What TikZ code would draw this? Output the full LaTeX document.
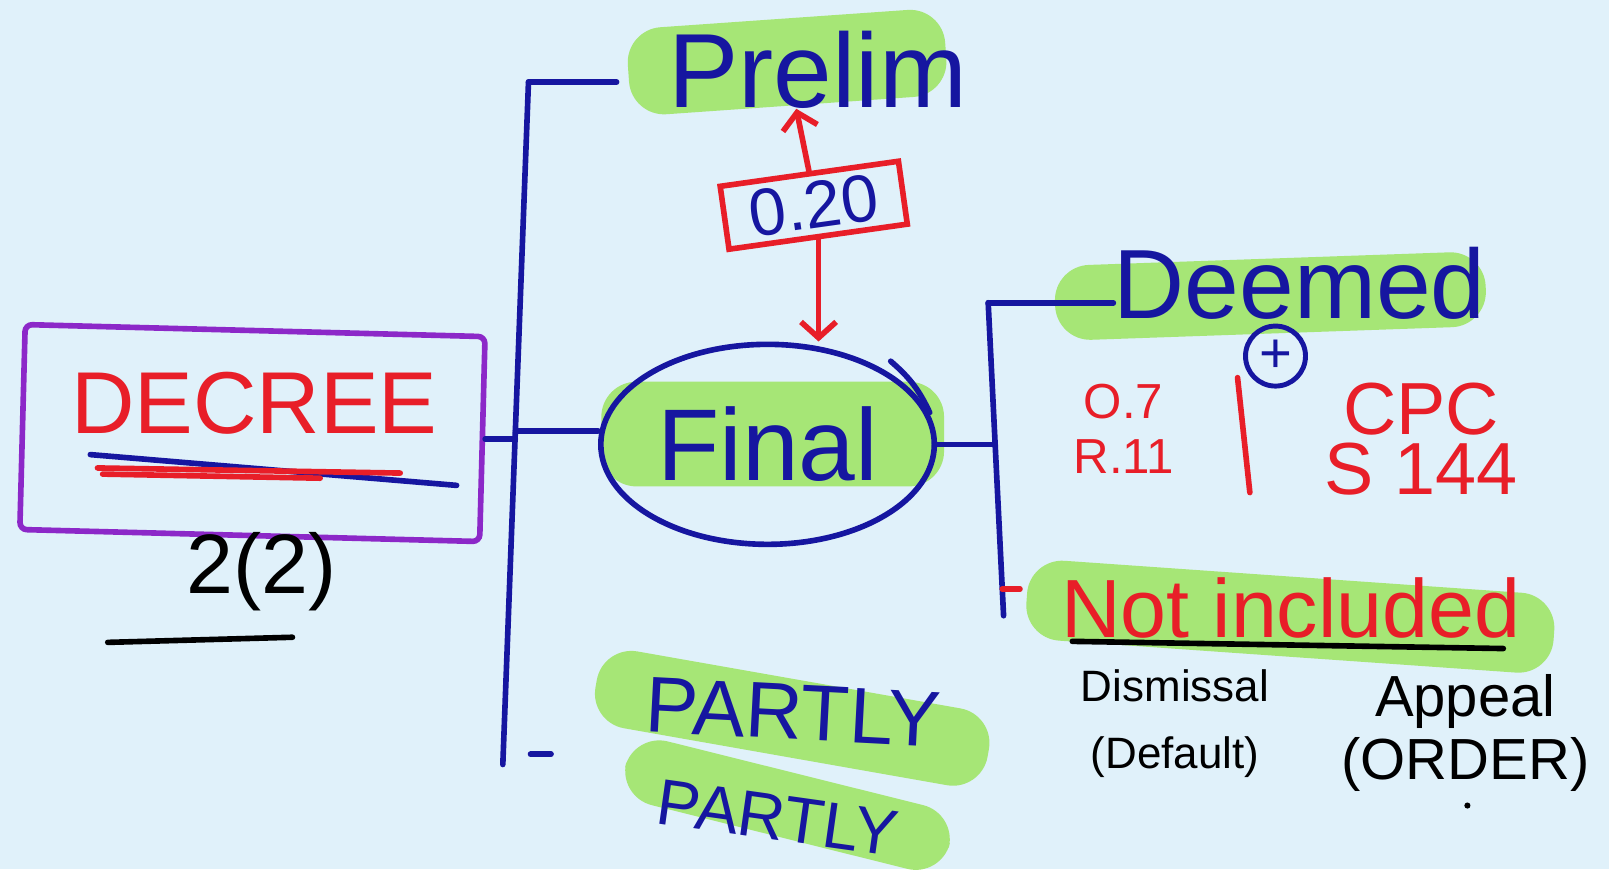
\documentclass[tikz,border=0pt]{standalone}
\usepackage{fontspec}
\setmainfont{Liberation Sans}
\usetikzlibrary{arrows.meta, calc, shapes.geometric}
\definecolor{bgc}{RGB}{224,241,250}
\definecolor{hlg}{RGB}{166,230,118}
\definecolor{inkb}{RGB}{22,22,160}
\definecolor{inkr}{RGB}{232,30,40}
\definecolor{inkp}{RGB}{140,40,200}
\tikzset{%
    blu/.style={draw=inkb, line width=3.2pt, line cap=round},
    rdl/.style={draw=inkr, line width=3.2pt, line cap=round},
    rdla/.style={rdl, -{Straight Barb[length=9pt, width=20pt]}},
    blk/.style={draw=black, line width=3.2pt, line cap=round},
    hl/.style={fill=hlg, rounded corners=20pt},
    tb/.style={text=inkb, inner sep=0pt},
    tr/.style={text=inkr, inner sep=0pt},
    tk/.style={text=black, inner sep=0pt},
}
\begin{document}
\begin{tikzpicture}[x=0.02052cm, y=-0.02052cm]
    \fill[bgc] (0,0) rectangle (1568,847);
    \useasboundingbox (0,0) rectangle (1568,847);
    % highlights
    \fill[hl, rotate around={4:(767,60)}] (612,18) rectangle (922,103);
    \fill[hl] (586,372) rectangle (920,474);
    \fill[hl, rotate around={2:(1238,288)}] (1028,252) rectangle (1448,325);
    \fill[hl, rotate around={-4:(1258,600)}] (1000,562) rectangle (1515,640);
    \fill[hl, rotate around={-10:(772,700)}] (578,662) rectangle (966,738);
    \fill[hl, rotate around={-14:(765,784)}] (605,752) rectangle (930,816);
    % decree box
    \node[draw=inkp, line width=3.2pt, rotate=-1.5, rounded corners=4pt,
          minimum width=9.2cm, minimum height=4.1cm] (dbox) at (246,422) {};
    \node[tr, font=\fontsize{50}{55}\selectfont] (dword) at (248,393) {DECREE};
    \draw[blu] (88,443) -- (445,473);
    \draw[rdl] (95,456) -- (390,461);
    \draw[rdl] (100,462) -- (312,466);
    \node[tk, font=\fontsize{48}{52}\selectfont] (sec) at (255,557) {2(2)};
    \draw[blk] (105,626) -- (285,621);
    % left trunk
    \coordinate (lt) at (515,80);
    \coordinate (lb) at (490,745);
    \coordinate (lm) at ($(lt)!0.511!(lb)$);
    \node[tb, font=\fontsize{60}{64}\selectfont, inner xsep=1.03cm] (prelim) at (797,68) {Prelim};
    \node[draw=inkb, line width=3.2pt, ellipse, inner sep=0pt, text=inkb,
          font=\fontsize{58}{62}\selectfont, minimum width=6.67cm, minimum height=4cm] (fin) at (748,433) {Final};
    \draw[blu] (868,352) to[bend left=12] (906,402);
    \node[tb, font=\fontsize{45}{48}\selectfont, rotate=-3] (part1) at (773,694) {PARTLY};
    \node[tb, font=\fontsize{37}{40}\selectfont, rotate=-8] (part2) at (758,797) {PARTLY};
    \draw[blu] (lt) -- (lb);
    \draw[blu] (lt) -- (lt -| prelim.west);
    \draw[blu] (dbox.east) -- (dbox.east -| lm);
    \draw[blu] (lm) -- (lm -| fin.west);
    \draw[blu] ($(lb)+(27,-10)$) -- ++(20,0);
    % threshold box and arrows
    \node[draw=inkr, line width=3.2pt, text=inkb, rotate=8, inner sep=0pt,
          font=\fontsize{38}{42}\selectfont, minimum width=3.6cm, minimum height=1.27cm] (val) at (793,200) {0.20};
    \coordinate (pup) at (776,106);
    \draw[rdla] (val.north) -- (pup);
    \draw[rdla] (val.south) -- (val.south |- fin.north);
    % right trunk
    \coordinate (rt) at (963,295);
    \coordinate (rb) at (978,600);
    \coordinate (rm) at ($(rt)!0.46!(rb)$);
    \coordinate (rn) at ($(rt)!0.915!(rb)$);
    \node[tb, font=\fontsize{56}{60}\selectfont, anchor=west] (deemed) at (1085,276) {Deemed};
    \node[draw=inkb, line width=2.8pt, circle, minimum size=1.2cm, inner sep=0pt, text=inkb,
          font=\fontsize{32}{32}\selectfont] (plus) at (1243,347) {+};
    \node[tr, align=center, font=\fontsize{28}{31}\selectfont] (ord) at (1095,418) {O.7\\R.11};
    \draw[rdl] (1206,368) -- (1218,480);
    \node[tr, align=center, font=\fontsize{42}{34}\selectfont] (cpc) at (1385,428) {CPC\\S 144};
    \node[tr, font=\fontsize{47}{50}\selectfont, inner xsep=0.82cm] (notinc) at (1258,592) {Not included};
    \draw[blk] (1045,625) -- (1465,632);
    \node[tk, align=center, font=\fontsize{25}{38}\selectfont] (dism) at (1145,705) {Dismissal\\(Default)};
    \node[tk, align=center, font=\fontsize{33}{36}\selectfont] (appl) at (1428,714) {Appeal\\(ORDER)};
    \fill[black] (1430,785) circle (3);
    \draw[blu] (fin.east) -- (fin.east -| rm);
    \draw[blu] (rt) -- (rb);
    \draw[blu] (rt) -- (rt -| deemed.west);
    \draw[rdl] (rn) -- (rn -| notinc.west);
\end{tikzpicture}
\end{document}
